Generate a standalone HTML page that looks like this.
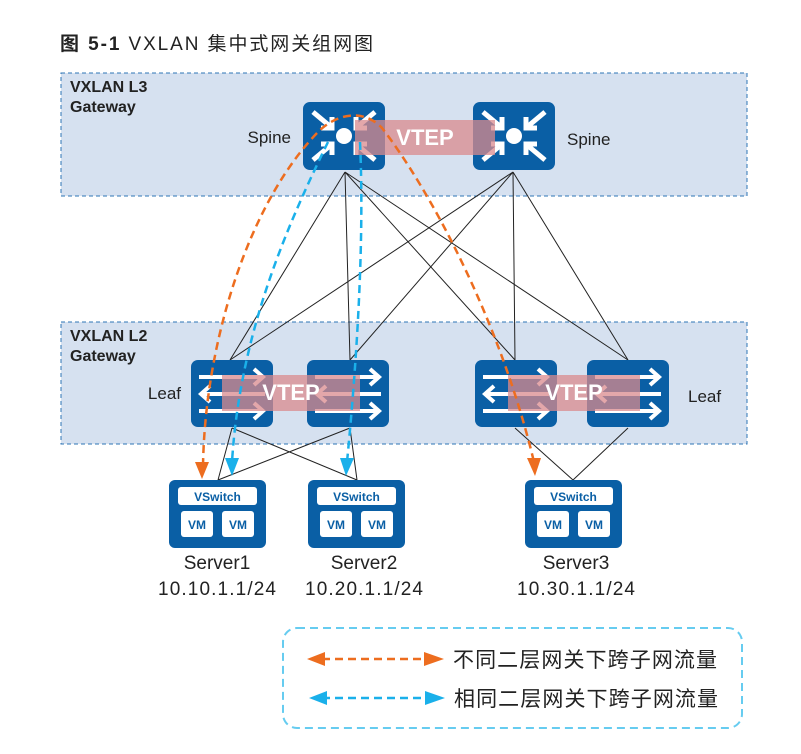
<!DOCTYPE html>
<html><head><meta charset="utf-8"><style>
body{margin:0;background:#fff;}
svg{display:block;font-family:"Liberation Sans","Noto Sans CJK SC",sans-serif;}
</style></head><body>
<svg width="801" height="754" viewBox="0 0 801 754" xmlns="http://www.w3.org/2000/svg">
<defs>
<g id="spine">
<rect x="0" y="0" width="82" height="68" rx="7" fill="#0a5fa5"/>
<circle cx="41" cy="34" r="8" fill="#fff"/>
<g stroke="#fff" stroke-width="5" fill="none">
<path d="M10,10 L28,25 M18,26 L29,26 L29,15"/>
<path d="M72,10 L54,25 M64,26 L53,26 L53,15"/>
<path d="M10,58 L28,43 M18,42 L29,42 L29,53"/>
<path d="M72,58 L54,43 M64,42 L53,42 L53,53"/>
</g></g>
<g id="leaf">
<rect x="0" y="0" width="82" height="67" rx="7" fill="#0a5fa5"/>
<g stroke="#fff" stroke-width="4" fill="none">
<path d="M8,17 L72,17 M63,9 L72,17 L63,25"/>
<path d="M10,34 L74,34 M19,26 L10,34 L19,42"/>
<path d="M8,51 L72,51 M63,43 L72,51 L63,59"/>
</g></g>
<g id="server">
<rect x="0" y="0" width="97" height="68" rx="6" fill="#0a5fa5"/>
<rect x="9" y="7" width="79" height="18" rx="3" fill="#fff"/>
<text x="48.5" y="21" font-size="12" font-weight="bold" fill="#0a5fa5" text-anchor="middle">VSwitch</text>
<rect x="12" y="31" width="32" height="26" rx="3" fill="#fff"/>
<rect x="53" y="31" width="32" height="26" rx="3" fill="#fff"/>
<text x="28" y="49" font-size="12" font-weight="bold" fill="#0a5fa5" text-anchor="middle">VM</text>
<text x="69" y="49" font-size="12" font-weight="bold" fill="#0a5fa5" text-anchor="middle">VM</text>
</g>
</defs>
<text x="60" y="50" font-size="19" fill="#222" textLength="313" lengthAdjust="spacing"><tspan font-weight="bold">图 5-1</tspan> VXLAN 集中式网关组网图</text>
<rect x="61" y="73" width="686" height="123" fill="#d6e1f0" stroke="#2e75b6" stroke-dasharray="4,3"/>
<rect x="61" y="322" width="686" height="122" fill="#d6e1f0" stroke="#2e75b6" stroke-dasharray="4,3"/>
<text x="70" y="92" font-size="16" font-weight="bold" fill="#222">VXLAN L3</text>
<text x="70" y="112" font-size="16" font-weight="bold" fill="#222">Gateway</text>
<text x="70" y="341" font-size="16" font-weight="bold" fill="#222">VXLAN L2</text>
<text x="70" y="361" font-size="16" font-weight="bold" fill="#222">Gateway</text>
<g stroke="#222" stroke-width="1">
<path d="M345,172 L230,360 M345,172 L350,360 M345,172 L515,360 M345,172 L628,360"/>
<path d="M513,172 L230,360 M513,172 L350,360 M513,172 L515,360 M513,172 L628,360"/>
<path d="M232,428 L218,480 M232,428 L357,480 M350,428 L218,480 M350,428 L357,480"/>
<path d="M515,428 L573,480 M628,428 L573,480"/>
</g>
<use href="#spine" x="303" y="102"/>
<use href="#spine" x="473" y="102"/>
<rect x="355" y="120" width="140" height="35" fill="#d98a8e" opacity="0.75"/>
<text x="425" y="145" font-size="22" font-weight="bold" fill="#fff" text-anchor="middle">VTEP</text>
<text x="291" y="143" font-size="17" fill="#222" text-anchor="end">Spine</text>
<text x="567" y="145" font-size="17" fill="#222">Spine</text>
<use href="#leaf" x="191" y="360"/>
<use href="#leaf" x="307" y="360"/>
<use href="#leaf" x="475" y="360"/>
<use href="#leaf" x="587" y="360"/>
<rect x="222" y="375" width="138" height="36" fill="#d98a8e" opacity="0.75"/>
<rect x="508" y="375" width="132" height="36" fill="#d98a8e" opacity="0.75"/>
<text x="291" y="400" font-size="22" font-weight="bold" fill="#fff" text-anchor="middle">VTEP</text>
<text x="574" y="400" font-size="22" font-weight="bold" fill="#fff" text-anchor="middle">VTEP</text>
<text x="181" y="399" font-size="17" fill="#222" text-anchor="end">Leaf</text>
<text x="688" y="402" font-size="17" fill="#222">Leaf</text>
<use href="#server" x="169" y="480"/>
<use href="#server" x="308" y="480"/>
<use href="#server" x="525" y="480"/>
<g font-size="19" fill="#222" text-anchor="middle">
<text x="217" y="569">Server1</text><text x="217" y="595" textLength="118" lengthAdjust="spacing">10.10.1.1/24</text>
<text x="364" y="569">Server2</text><text x="364" y="595" textLength="118" lengthAdjust="spacing">10.20.1.1/24</text>
<text x="576" y="569">Server3</text><text x="576" y="595" textLength="118" lengthAdjust="spacing">10.30.1.1/24</text>
</g>
<g fill="none" stroke-width="2.5" stroke-dasharray="8,5">
<path d="M203,466 C205,340 250,200 320,130 C340,112 365,110 382,128 C430,190 500,320 534,462" stroke="#ed6d1f"/>
<path d="M328,142 C290,220 240,330 232,462" stroke="#1ab0ea"/>
<path d="M360,142 C365,250 355,380 347,462" stroke="#1ab0ea"/>
</g>
<path d="M195,462 L209,462 L202,479z" fill="#ed6d1f"/>
<path d="M527,458 L541,458 L535,476z" fill="#ed6d1f"/>
<path d="M225,458 L239,458 L232,476z" fill="#1ab0ea"/>
<path d="M340,458 L354,458 L346,476z" fill="#1ab0ea"/>
<rect x="283" y="628" width="459" height="100" rx="14" fill="none" stroke="#66ccf0" stroke-width="2" stroke-dasharray="8,5"/>
<g stroke-width="2.5" stroke-dasharray="8,5">
<line x1="322" y1="659" x2="422" y2="659" stroke="#ed6d1f"/>
<line x1="322" y1="698" x2="422" y2="698" stroke="#1ab0ea"/>
</g>
<path d="M307,659 L325,652 L325,666z M444,659 L424,652 L424,666z" fill="#ed6d1f"/>
<path d="M309,698 L327,691 L327,705z M445,698 L425,691 L425,705z" fill="#1ab0ea"/>
<text x="453" y="667" font-size="21" fill="#222" textLength="264" lengthAdjust="spacing">不同二层网关下跨子网流量</text>
<text x="454" y="706" font-size="21" fill="#222" textLength="264" lengthAdjust="spacing">相同二层网关下跨子网流量</text>
</svg>
</body></html>
